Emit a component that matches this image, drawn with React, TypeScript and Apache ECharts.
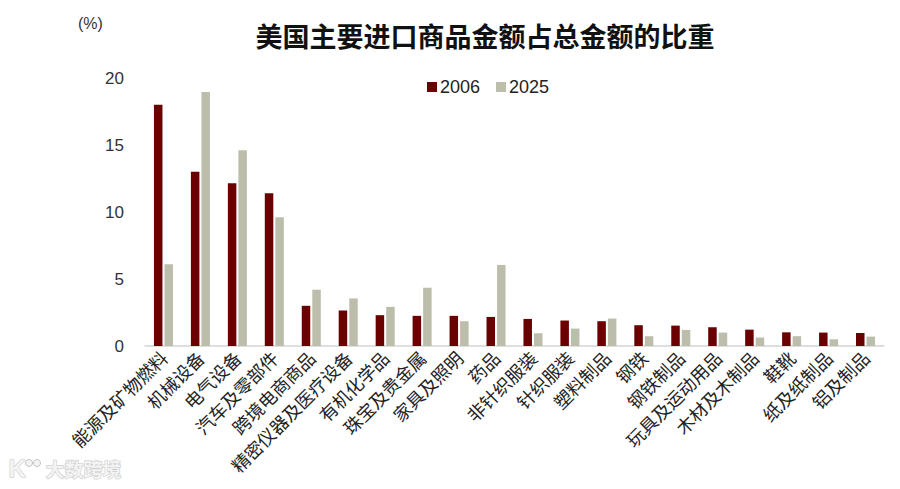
import React, { useEffect, useRef } from "react";
import * as echarts from "echarts";

const categories = [
  "能源及矿物燃料", "机械设备", "电气设备", "汽车及零部件", "跨境电商商品",
  "精密仪器及医疗设备", "有机化学品", "珠宝及贵金属", "家具及照明", "药品",
  "非针织服装", "针织服装", "塑料制品", "钢铁", "钢铁制品",
  "玩具及运动用品", "木材及木制品", "鞋靴", "纸及纸制品", "铝及制品",
];
const values2006 = [18.0, 13.0, 12.15, 11.4, 3.0, 2.65, 2.3, 2.25, 2.25, 2.17, 2.02, 1.9, 1.85, 1.55, 1.52, 1.4, 1.22, 1.02, 1.0, 0.97];
const values2025 = [6.1, 18.95, 14.6, 9.6, 4.2, 3.55, 2.92, 4.35, 1.85, 6.05, 0.95, 1.3, 2.05, 0.73, 1.2, 1.0, 0.63, 0.73, 0.5, 0.7];
const seriesNames = ["2006", "2025"];
const yTicks = { min: 0, max: 20, interval: 5 };

export default function App() {
  const ref = useRef<HTMLDivElement>(null);
  useEffect(() => {
    if (!ref.current) return;
    const chart = echarts.init(ref.current, null, { renderer: "svg" });
    const font = "Arial, 'Liberation Sans', 'Noto Sans CJK SC', sans-serif";
    const cjk = "'Noto Sans CJK SC', sans-serif";
    chart.setOption({
      animation: false,
      backgroundColor: "#ffffff",
      textStyle: { fontFamily: font },
      title: {
        text: "美国主要进口商品金额占总金额的比重",
        left: 480,
        textAlign: "center",
        top: 17,
        textStyle: { fontSize: 27, fontWeight: "bold", color: "#111", fontFamily: cjk },
      },
      legend: {
        data: seriesNames,
        left: 422,
        top: 73,
        itemWidth: 10,
        itemHeight: 10,
        itemGap: 16,
        icon: "rect",
        textStyle: { fontSize: 18, color: "#222", fontFamily: font, padding: [0, 0, 0, -2] },
      },
      grid: { left: 145, right: 16, top: 78, bottom: 143, containLabel: false },
      xAxis: {
        type: "category",
        data: categories,
        axisLine: { lineStyle: { color: "#d4d4d4", width: 1.5 } },
        axisTick: { show: false },
        axisLabel: {
          rotate: 45,
          interval: 0,
          margin: 8,
          fontSize: 18,
          color: "#222",
          fontFamily: cjk,
        },
      },
      yAxis: {
        type: "value",
        min: yTicks.min,
        max: yTicks.max,
        interval: yTicks.interval,
        axisLine: { show: false },
        axisTick: { show: false },
        splitLine: { show: false },
        axisLabel: { fontSize: 17, color: "#333", margin: 21, fontFamily: font },
      },
      series: [
        {
          name: seriesNames[0],
          type: "bar",
          data: values2006,
          barWidth: 8.5,
          barGap: "24%",
          itemStyle: { color: "#6a0000" },
        },
        {
          name: seriesNames[1],
          type: "bar",
          data: values2025,
          barWidth: 8.5,
          itemStyle: { color: "#bcbdab" },
        },
      ],
      graphic: [
        {
          type: "text",
          left: 78,
          top: 15,
          style: { text: "(%)", fontSize: 16, fill: "#333", fontFamily: font },
        },
        {
          type: "text",
          left: 8,
          top: 456,
          style: {
            text: "K",
            fontSize: 24,
            fontWeight: "bold",
            fill: "#f3f3f3",
            stroke: "#c4c4c4",
            lineWidth: 1,
            fontFamily: font,
          },
        },
        {
          type: "circle",
          shape: { cx: 29, cy: 463, r: 3.5 },
          style: { fill: "#f3f3f3", stroke: "#c4c4c4", lineWidth: 1 },
        },
        {
          type: "circle",
          shape: { cx: 37, cy: 463, r: 3.5 },
          style: { fill: "#f3f3f3", stroke: "#c4c4c4", lineWidth: 1 },
        },
        {
          type: "text",
          left: 45,
          top: 458,
          style: {
            text: "大数跨境",
            fontSize: 19,
            fontWeight: "bold",
            fill: "#f3f3f3",
            stroke: "#c4c4c4",
            lineWidth: 1,
            fontFamily: cjk,
          },
        },
      ],
    });
    return () => chart.dispose();
  }, []);
  return (
    <div
      ref={ref}
      style={{ position: "fixed", left: 0, top: 0, width: 900, height: 489 }}
    />
  );
}
